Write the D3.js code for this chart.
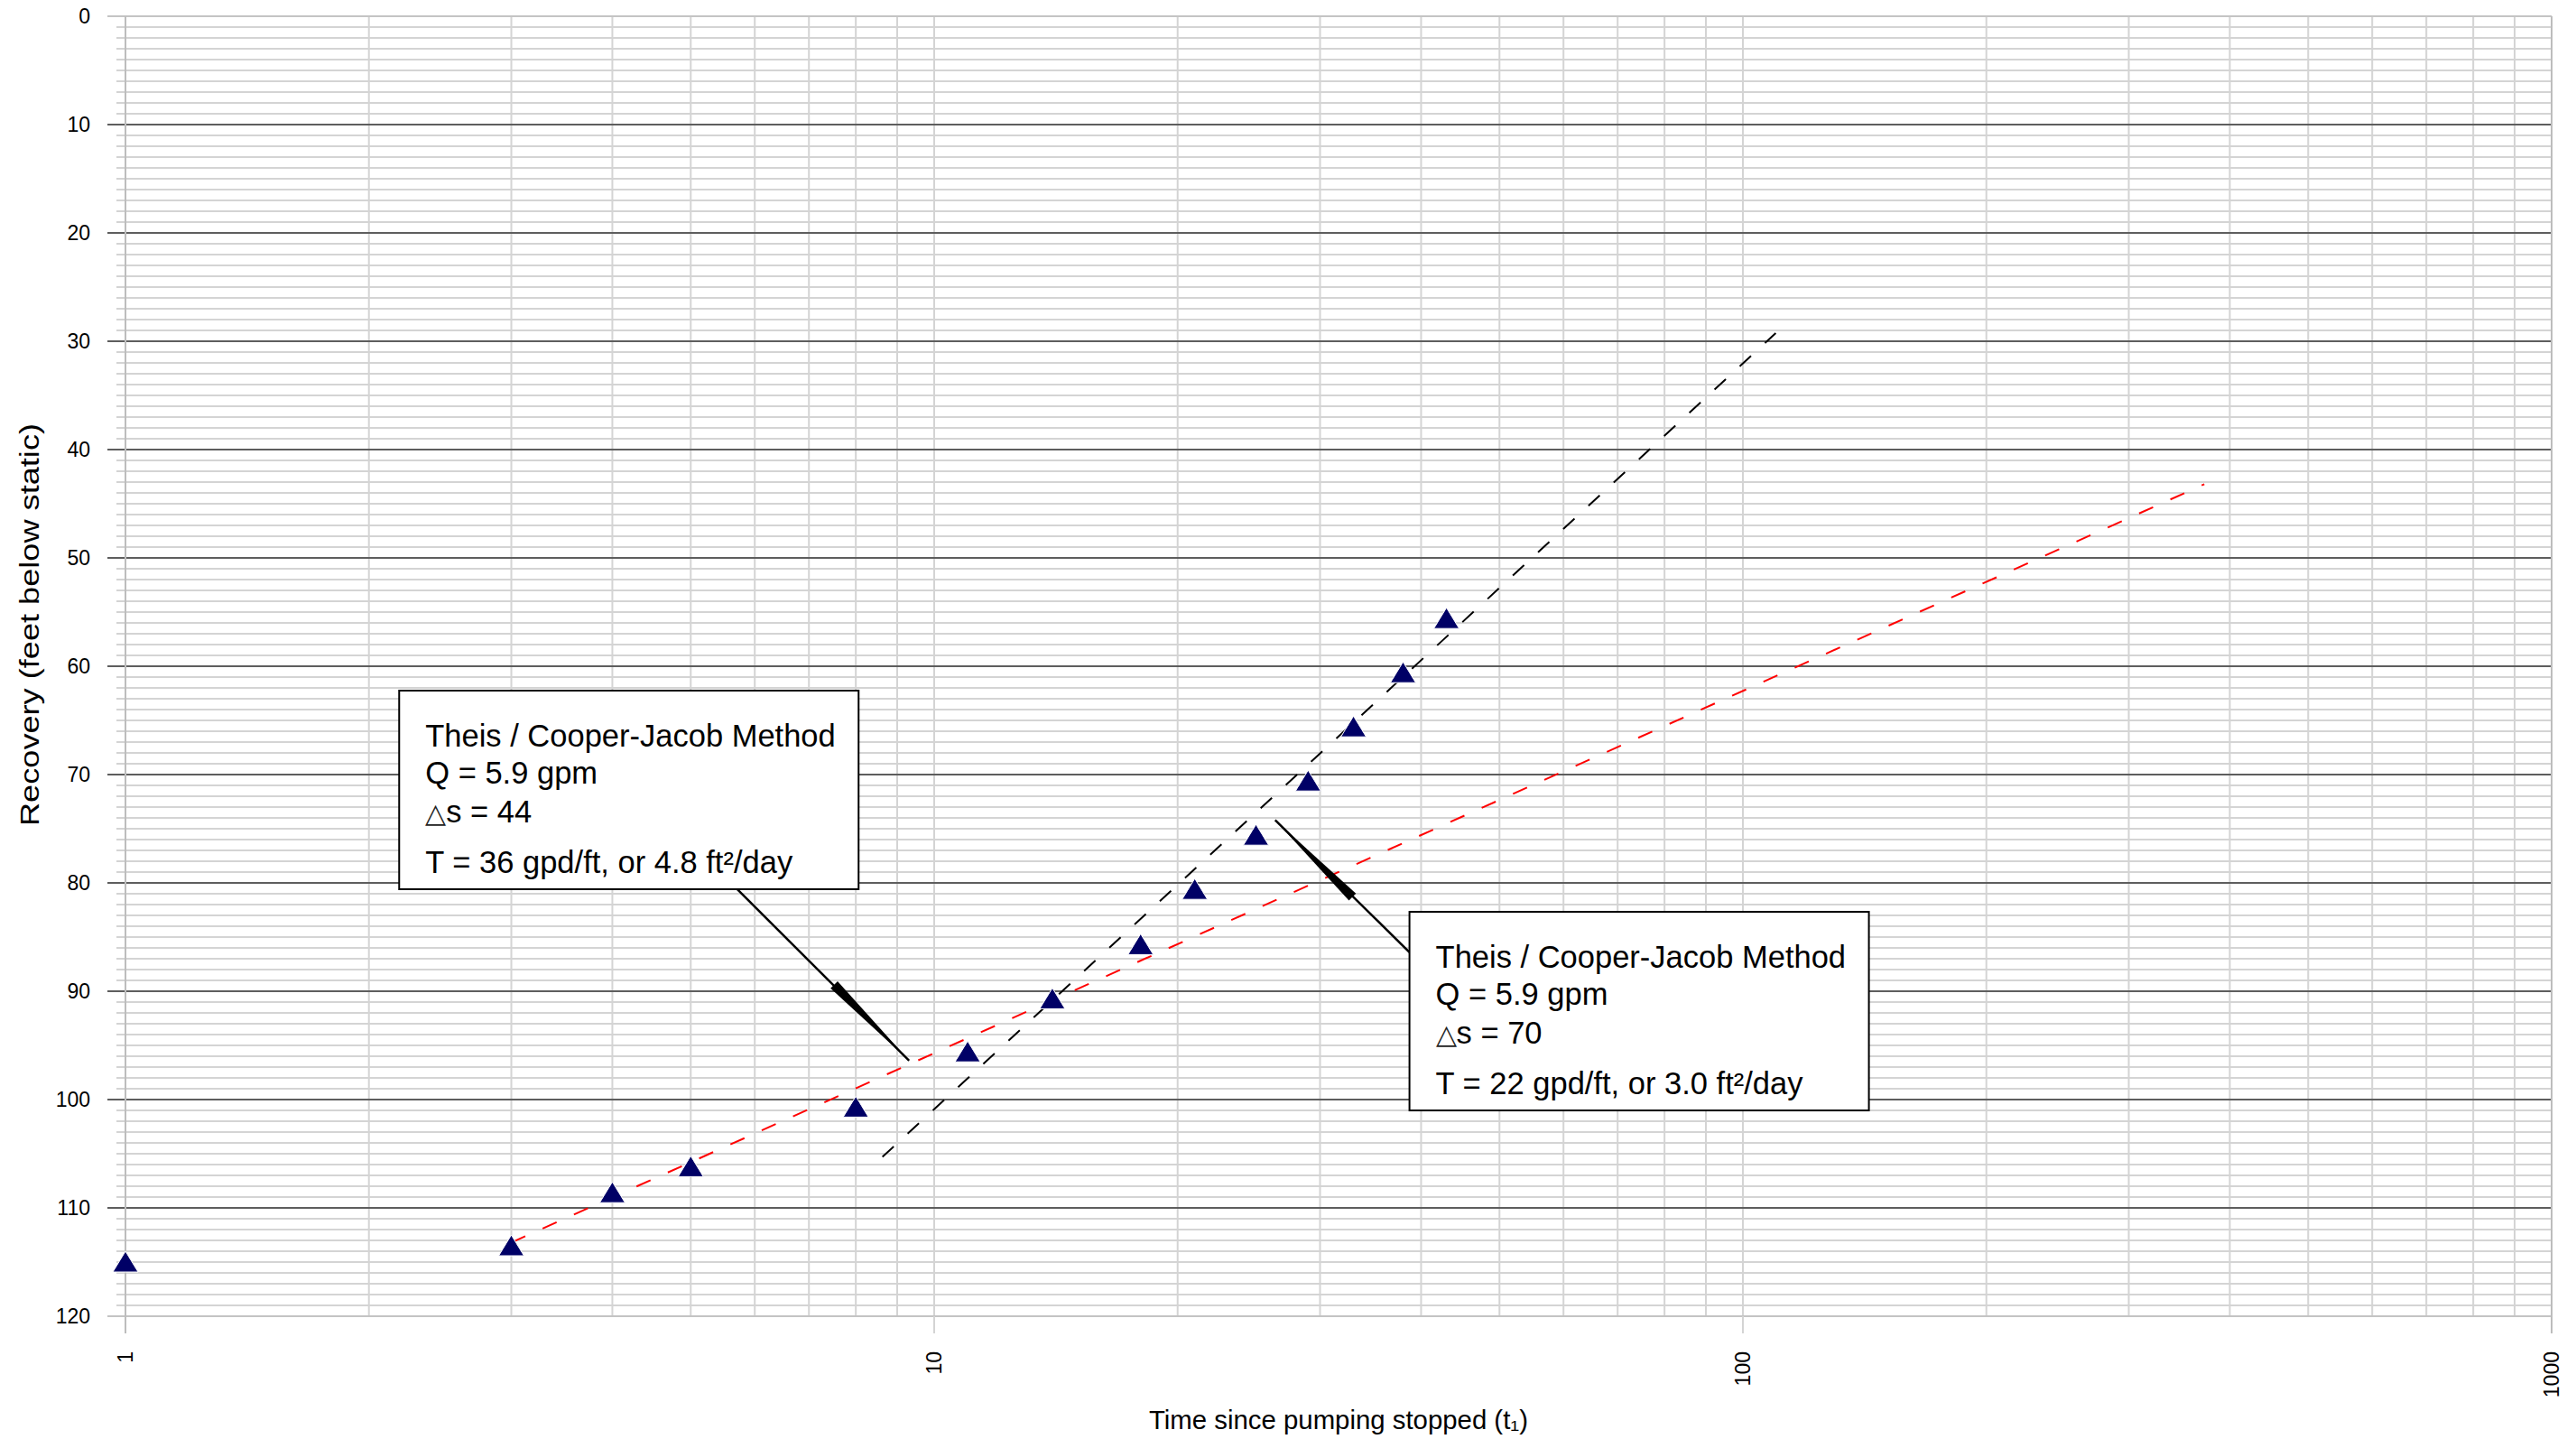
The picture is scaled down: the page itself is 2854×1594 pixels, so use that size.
<!DOCTYPE html>
<html>
<head>
<meta charset="utf-8">
<script src="https://cdn.jsdelivr.net/npm/d3@7"></script>
<style>
  html, body { margin: 0; padding: 0; background: #fff; }
  svg { display: block; font-family: "Liberation Sans", Arial, sans-serif; }
</style>
</head>
<body>
<div id="chart"></div>
<script>
// time since pumping stopped (t1) and recovery, feet below static
const times = [1, 3, 4, 5, 8, 11, 14, 18, 21, 25, 29, 33, 38, 43];
const recovery = [115, 113.5, 108.6, 106.2, 100.7, 95.6, 90.7, 85.7, 80.6, 75.6, 70.6, 65.6, 60.6, 55.6];

// straight lines drawn through the data on the semi-log plot
const redLine = [[3, 113.2], [372, 43.2]];
const blackLine = [[8.63, 105.3], [109.8, 29.25]];

const yTicks = d3.range(0, 121, 10);
const xTicks = [1, 10, 100, 1000];

const xTitle = "Time since pumping stopped (t\u2081)";
const yTitle = "Recovery (feet below static)";

// callout boxes, anchored in data units
const callouts = [
  {
    lines: ["Theis / Cooper-Jacob Method", "Q = 5.9 gpm", "44", "T = 36 gpd/ft, or 4.8 ft\u00b2/day"],
    box: [2.18, 62.25],
    start: [5.71, 80.6],
    blunt: [7.52, 89.4],
    tip: [9.31, 96.4],
  },
  {
    lines: ["Theis / Cooper-Jacob Method", "Q = 5.9 gpm", "70", "T = 22 gpd/ft, or 3.0 ft\u00b2/day"],
    box: [38.7, 82.67],
    start: [38.7, 86.4],
    blunt: [32.9, 81.3],
    tip: [26.4, 74.2],
  },
];

const width = 2854;
const height = 1594;
const margin = { top: 18, right: 27, bottom: 136, left: 139 };

const x = d3.scaleLog().domain([1, 1000]).range([margin.left, width - margin.right]);
const y = d3.scaleLinear().domain([0, 120]).range([margin.top, height - margin.bottom]);

const svg = d3.select("#chart").append("svg")
  .attr("width", width)
  .attr("height", height)
  .attr("viewBox", [0, 0, width, height]);

const grid = svg.append("g").attr("class", "grid");

// vertical log gridlines: 1..9 in every decade plus 1000
const xMinor = [];
for (let d = 1; d < 1000; d *= 10) {
  for (let k = 1; k < 10; k++) xMinor.push(d * k);
}
xMinor.push(1000);

grid.selectAll(".vgrid")
  .data(xMinor.filter((v) => v !== 1 && v !== 1000))
  .join("line")
  .attr("class", "vgrid")
  .attr("x1", (d) => x(d))
  .attr("x2", (d) => x(d))
  .attr("y1", y(0))
  .attr("y2", y(120))
  .attr("stroke", "#d4d4d4")
  .attr("stroke-width", 2);

// horizontal gridlines, one per foot
const yMinor = d3.range(1, 120).filter((v) => v % 10 !== 0);
grid.selectAll(".hgrid")
  .data(yMinor)
  .join("line")
  .attr("class", "hgrid")
  .attr("x1", x(1) - 10)
  .attr("x2", x(1000))
  .attr("y1", (d) => y(d))
  .attr("y2", (d) => y(d))
  .attr("stroke", "#d4d4d4")
  .attr("stroke-width", 2);

grid.selectAll(".hmajor")
  .data(yTicks)
  .join("line")
  .attr("class", "hmajor")
  .attr("x1", x(1) - 20)
  .attr("x2", x(1000))
  .attr("y1", (d) => y(d))
  .attr("y2", (d) => y(d))
  .attr("stroke", (d) => (d === 0 || d === 120 ? "#c4c4c4" : "#5e5e5e"))
  .attr("stroke-width", 2);

// edges of the plot with the major x ticks hanging below
grid.selectAll(".xmajor")
  .data(xTicks)
  .join("line")
  .attr("class", "xmajor")
  .attr("x1", (d) => x(d))
  .attr("x2", (d) => x(d))
  .attr("y1", (d) => (d === 1 || d === 1000 ? y(0) : y(120)))
  .attr("y2", y(120) + 19)
  .attr("stroke", (d) => (d === 1 || d === 1000 ? "#bdbdbd" : "#d4d4d4"))
  .attr("stroke-width", 2);

// tick labels
svg.append("g")
  .selectAll("text")
  .data(yTicks)
  .join("text")
  .attr("x", 100)
  .attr("y", (d) => y(d))
  .attr("dy", "0.36em")
  .attr("text-anchor", "end")
  .attr("font-size", 23)
  .attr("fill", "#000")
  .text((d) => d);

svg.append("g")
  .selectAll("text")
  .data(xTicks)
  .join("text")
  .attr("transform", (d) => `translate(${x(d)},${y(120) + 39}) rotate(-90)`)
  .attr("dy", "0.36em")
  .attr("text-anchor", "end")
  .attr("font-size", 23)
  .attr("fill", "#000")
  .text((d) => d);

// axis titles
svg.append("text")
  .attr("x", (x(1) + x(1000)) / 2)
  .attr("y", 1583)
  .attr("text-anchor", "middle")
  .attr("font-size", 29)
  .attr("textLength", 420)
  .attr("lengthAdjust", "spacingAndGlyphs")
  .text(xTitle);

svg.append("text")
  .attr("transform", "translate(43,692) rotate(-90)")
  .attr("text-anchor", "middle")
  .attr("font-size", 30)
  .attr("textLength", 446)
  .attr("lengthAdjust", "spacingAndGlyphs")
  .text(yTitle);

// fitted lines
const line = d3.line().x((d) => x(d[0])).y((d) => y(d[1]));

svg.append("path")
  .datum(redLine)
  .attr("fill", "none")
  .attr("stroke", "#ff0000")
  .attr("stroke-width", 2)
  .attr("stroke-dasharray", "17,21")
  .attr("d", line);

svg.append("path")
  .datum(blackLine)
  .attr("fill", "none")
  .attr("stroke", "#000")
  .attr("stroke-width", 2)
  .attr("stroke-dasharray", "17,21")
  .attr("d", line);

// recovery points
const points = times.map((t, i) => ({ t, s: recovery[i] }));
svg.append("g")
  .selectAll("path")
  .data(points)
  .join("path")
  .attr("transform", (d) => `translate(${x(d.t)},${y(d.s)})`)
  .attr("d", "M0,-12L14,11L-14,11Z")
  .attr("fill", "#000066")
  .attr("stroke", "#fff")
  .attr("stroke-width", 1);

// callouts
const boxW = 509;
const boxH = 220;
const lineY = [62, 103, 146, 202];

const pt = (d) => [x(d[0]), y(d[1])];

const call = svg.append("g")
  .selectAll("g")
  .data(callouts)
  .join("g");

call.append("line")
  .attr("x1", (d) => pt(d.start)[0])
  .attr("y1", (d) => pt(d.start)[1])
  .attr("x2", (d) => pt(d.tip)[0])
  .attr("y2", (d) => pt(d.tip)[1])
  .attr("stroke", "#000")
  .attr("stroke-width", 2.5);

call.append("path")
  .attr("fill", "#000")
  .attr("d", (d) => {
    const [bx, by] = pt(d.blunt);
    const [tx, ty] = pt(d.tip);
    const len = Math.hypot(tx - bx, ty - by);
    const nx = (-(ty - by) / len) * 5.5;
    const ny = ((tx - bx) / len) * 5.5;
    return `M${bx + nx},${by + ny}L${bx - nx},${by - ny}L${tx},${ty}Z`;
  });

call.append("rect")
  .attr("x", (d) => pt(d.box)[0])
  .attr("y", (d) => pt(d.box)[1])
  .attr("width", boxW)
  .attr("height", boxH)
  .attr("fill", "#fff")
  .attr("stroke", "#000")
  .attr("stroke-width", 2);

call.each(function (d) {
  const [bx, by] = pt(d.box);
  const g = d3.select(this);
  d.lines.forEach((txt, i) => {
    const t = g.append("text")
      .attr("x", bx + 29)
      .attr("y", by + lineY[i])
      .attr("font-size", 34.5)
      .attr("fill", "#000");
    if (i === 2) {
      t.append("tspan").attr("font-size", 30).attr("fill", "#222").text("\u25b3");
      t.append("tspan").text("s = " + txt);
    } else {
      t.text(txt);
    }
  });
});
</script>
</body>
</html>
